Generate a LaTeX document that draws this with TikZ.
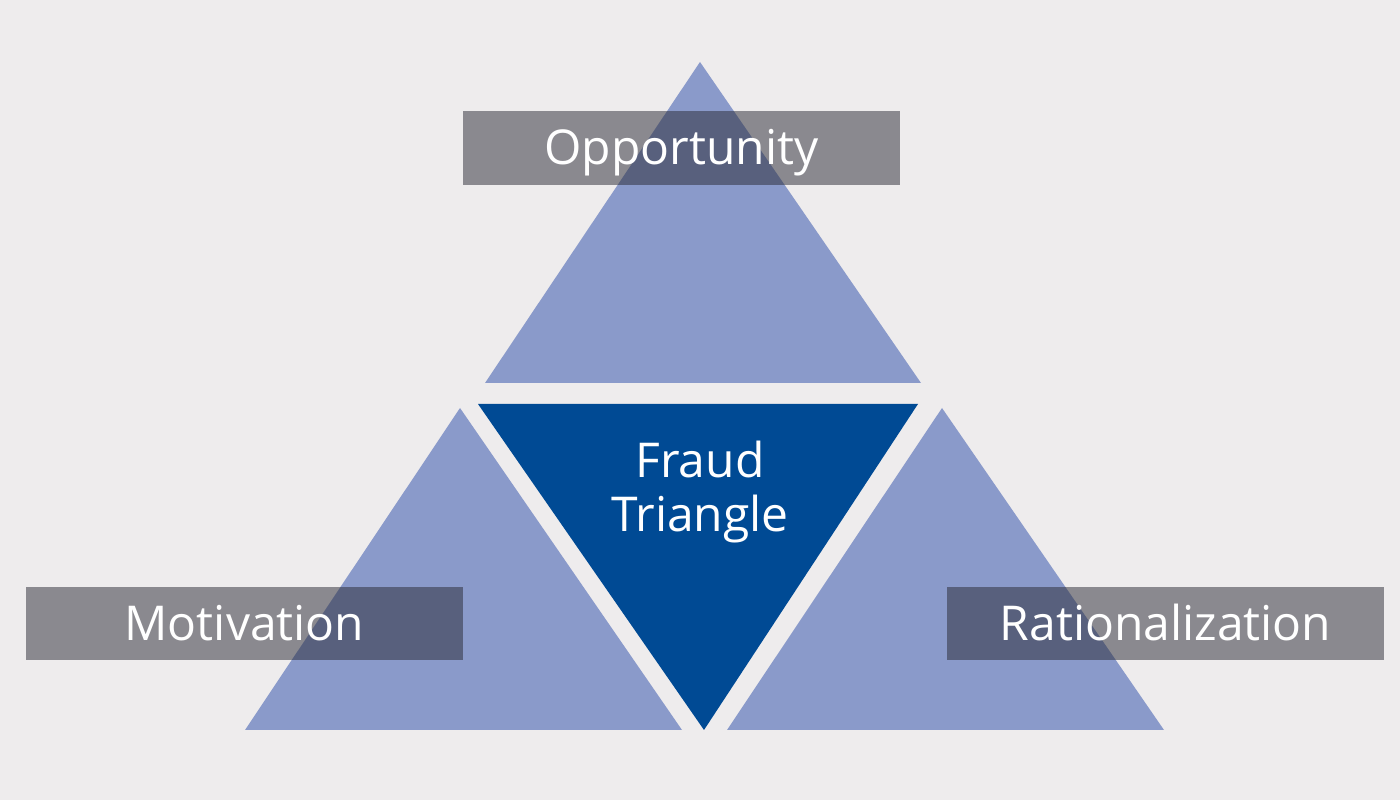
\documentclass[tikz,border=0pt]{standalone}
\usepackage{fontspec}
\setmainfont{Open Sans}
\usepackage{color}

\begin{document}
\begin{tikzpicture}[x=1pt,y=1pt]
\definecolor{fillColor}{RGB}{238,236,237}
\path[use as bounding box,fill=fillColor] (0,0) rectangle (1400,800);
\begin{scope}
\definecolor{fillColor}{RGB}{138,154,202}

\path[fill=fillColor] (700.00,738.00) -- (485.00,417.00) -- (921.00,417.00) -- cycle;

\path[fill=fillColor] (460.00,392.00) -- (245.00, 70.00) -- (682.00, 70.00) -- cycle;

\path[fill=fillColor] (942.00,392.00) -- (727.00, 70.00) -- (1164.00, 70.00) -- cycle;
\definecolor{fillColor}{RGB}{0,74,148}

\path[fill=fillColor] (478.00,396.00) -- (918.00,396.00) -- (704.00, 70.00) -- cycle;
\end{scope}
\begin{scope}
\definecolor{fillColor}{RGB}{40,40,50}

\path[fill=fillColor,fill opacity=0.50] (463.00,615.00) rectangle (900.00,689.00);

\path[fill=fillColor,fill opacity=0.50] ( 26.00,140.00) rectangle (463.00,213.00);

\path[fill=fillColor,fill opacity=0.50] (947.00,140.00) rectangle (1384.00,213.00);
\end{scope}
\begin{scope}
\definecolor{drawColor}{RGB}{255,255,255}

\node[text=drawColor,anchor=base,inner sep=0pt, outer sep=0pt, font=\fontsize{48}{54}\selectfont] (opportunity) at (681.50,635.00) {Opportunity};

\node[text=drawColor,anchor=base,inner sep=0pt, outer sep=0pt, font=\fontsize{48}{54}\selectfont] (motivation) at (244.50,159.00) {Motivation};

\node[text=drawColor,anchor=base,inner sep=0pt, outer sep=0pt, font=\fontsize{48}{54}\selectfont] (rationalization) at (1165.50,159.00) {Rationalization};

\node[text=drawColor,anchor=base,inner sep=0pt, outer sep=0pt, font=\fontsize{48}{54}\selectfont] (fraud) at (700.00,322.00) {Fraud};

\node[text=drawColor,anchor=base,inner sep=0pt, outer sep=0pt, font=\fontsize{48}{54}\selectfont] (triangle) at (700.00,268.00) {Triangle};
\end{scope}
\end{tikzpicture}
\end{document}
